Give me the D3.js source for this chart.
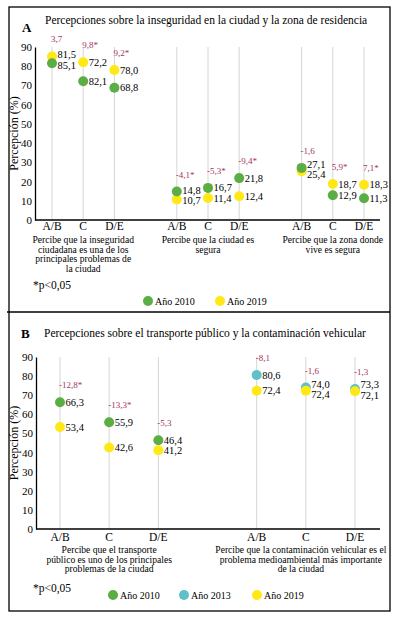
<!DOCTYPE html>
<html>
<head>
<meta charset="utf-8">
<script src="https://cdn.jsdelivr.net/npm/d3@7"></script>
<style>
  body { margin: 0; background: #fff; }
  text { font-family: "Liberation Serif", "DejaVu Serif", serif; }
</style>
</head>
<body>
<svg id="chart" width="397" height="621" font-family="Liberation Serif"></svg>
<script>
// ---- data, panel A ----
const catsA = ["A/B", "C", "D/E"];
const groupsA = [
  ["Percibe que la inseguridad", "ciudadana es una de los", "principales problemas de", "la ciudad"],
  ["Percibe que la ciudad es", "segura"],
  ["Percibe que la zona donde", "vive es segura"]
];
const a2010 = [81.5, 72.2, 68.8, 14.8, 16.7, 21.8, 27.1, 12.9, 11.3];
const a2019 = [85.1, 82.1, 78.0, 10.7, 11.4, 12.4, 25.4, 18.7, 18.3];
const a2010Labels = ["85,1", "82,1", "68,8", "14,8", "16,7", "21,8", "27,1", "12,9", "11,3"];
const a2019Labels = ["81,5", "72,2", "78,0", "10,7", "11,4", "12,4", "25,4", "18,7", "18,3"];
const diffA = ["3,7", "9,8*", "9,2*", "-4,1*", "-5,3*", "-9,4*", "-1,6", "5,9*", "7,1*"];

// ---- data, panel B ----
const catsB = ["A/B", "C", "D/E"];
const groupsB = [
  ["Percibe que el transporte", "público es uno de los principales", "problemas de la ciudad"],
  ["Percibe que la contaminación vehicular es el", "problema medioambiental más importante", "de la ciudad"]
];
const b2010 = [66.3, 55.9, 46.4, null, null, null];
const b2013 = [null, null, null, 80.6, 74.0, 73.3];
const b2019 = [53.4, 42.6, 41.2, 72.4, 72.4, 72.1];
const b2010Labels = ["66,3", "55,9", "46,4", null, null, null];
const b2013Labels = [null, null, null, "80,6", "74,0", "73,3"];
const b2019Labels = ["53,4", "42,6", "41,2", "72,4", "72,4", "72,1"];
const diffB = ["-12,8*", "-13,3*", "-5,3", "-8,1", "-1,6", "-1,3"];

const yTicks = [0, 10, 20, 30, 40, 50, 60, 70, 80, 90];

const GREEN = "#5aae45", YELLOW = "#ffe815", TEAL = "#5fc0c8", DIFF = "#a3335f";
const FONT = "Liberation Serif";

const svg = d3.select("#chart");

// panel frames (shared border between panels)
svg.append("rect").attr("x", 9).attr("y", 7).attr("width", 381).attr("height", 604)
  .attr("fill", "none").attr("stroke", "#000").attr("stroke-width", 1.3);
svg.append("line").attr("x1", 7).attr("x2", 390).attr("y1", 312).attr("y2", 312)
  .attr("stroke", "#000").attr("stroke-width", 1.3);

function drawPanel(cfg) {
  const g = svg.append("g").attr("font-family", FONT);
  const nGroups = cfg.groups.length;

  // slot keys with a spacer between groups
  const keys = [];
  cfg.groups.forEach((grp, gi) => {
    cfg.cats.forEach(c => keys.push(gi + "|" + c));
    if (gi < nGroups - 1) { keys.push("gap" + gi); }
  });
  const x = d3.scalePoint().domain(keys).range(cfg.xRange);
  const dataKeys = keys.filter(k => !k.startsWith("gap"));
  const y = d3.scaleLinear().domain([0, 90]).range([cfg.y0, cfg.y90]);

  // letter + title
  g.append("text").attr("x", cfg.letterX).attr("y", cfg.letterY)
    .attr("font-weight", "bold").attr("font-size", 13).text(cfg.letter);
  g.append("text").attr("x", cfg.titleX).attr("y", cfg.titleY)
    .attr("font-size", 11.5).text(cfg.title);

  // gridlines
  g.selectAll(".grid").data(dataKeys).join("line")
    .attr("x1", d => x(d)).attr("x2", d => x(d))
    .attr("y1", y(0)).attr("y2", y(90))
    .attr("stroke", "#d6d6d6").attr("stroke-width", 1);

  // y axis
  const yAxis = g.append("g").attr("transform", `translate(${cfg.axisX},0)`)
    .call(d3.axisLeft(y).tickValues(yTicks).tickSize(0).tickPadding(3));
  yAxis.attr("font-family", FONT);
  yAxis.select(".domain").attr("stroke", "#000").attr("stroke-width", 1.3);
  yAxis.selectAll("text").attr("font-size", 11).attr("fill", "#000");

  // x axis line
  g.append("line").attr("x1", cfg.axisX).attr("x2", cfg.axisEnd)
    .attr("y1", y(0)).attr("y2", y(0)).attr("stroke", "#000").attr("stroke-width", 1.3);

  // y axis title
  g.append("text")
    .attr("transform", `translate(${cfg.yTitleX},${(y(0) + y(90)) / 2}) rotate(-90)`)
    .attr("text-anchor", "middle").attr("font-size", 12).text("Percepción (%)");

  // category labels
  g.selectAll(".cat").data(dataKeys).join("text")
    .attr("x", d => x(d)).attr("y", cfg.catY)
    .attr("text-anchor", "middle").attr("font-size", 11.5).text(d => d.split("|")[1]);

  // group descriptions
  cfg.groups.forEach((lines, gi) => {
    const cx = x(gi + "|" + cfg.cats[1]) + (cfg.descShift ? cfg.descShift[gi] : 0);
    g.append("text").attr("text-anchor", "middle").attr("font-size", 9.6)
      .selectAll("tspan").data(lines).join("tspan")
      .attr("x", cx).attr("y", (d, i) => cfg.descY + i * 9.7).text(d => d);
  });

  // dots
  const points = [];
  cfg.series.forEach(s => {
    s.values.forEach((v, i) => {
      if (v == null) return;
      points.push({ key: dataKeys[i], i, v, label: s.labels[i], color: s.color, order: s.order });
    });
  });

  // spread value labels vertically when dots are close
  const minGap = 10.5;
  d3.groups(points, p => p.i).forEach(([i, pts]) => {
    pts.forEach(p => p.ly = y(p.v));
    pts.sort((a, b) => a.ly - b.ly);
    for (let k = 1; k < pts.length; k++) {
      const gap = pts[k].ly - pts[k - 1].ly;
      if (gap < minGap) {
        const push = (minGap - gap) / 2;
        pts[k - 1].ly -= push;
        pts[k].ly += push;
      }
    }
  });

  const drawOrder = points.slice().sort((a, b) => a.order - b.order);
  g.selectAll(".dot").data(drawOrder).join("circle")
    .attr("cx", d => x(d.key)).attr("cy", d => y(d.v)).attr("r", 5)
    .attr("fill", d => d.color);

  g.selectAll(".val").data(points).join("text")
    .attr("x", d => x(d.key) + 5.5).attr("y", d => d.ly)
    .attr("dy", "0.35em").attr("font-size", 10.5).text(d => d.label);

  // difference labels above the top dot
  g.selectAll(".diff").data(cfg.diffs).join("text")
    .attr("x", (d, i) => x(dataKeys[i]) - 1)
    .attr("y", (d, i) => {
      const top = d3.max(points.filter(p => p.i === i), p => p.v);
      return y(top) - 14;
    })
    .attr("font-size", 9).attr("fill", DIFF).text(d => d);

  // note
  g.append("text").attr("x", 33).attr("y", cfg.noteY).attr("font-size", 11.5).text("*p<0,05");

  // legend
  const leg = g.selectAll(".leg").data(cfg.legend).join("g")
    .attr("transform", d => `translate(${d.x},${cfg.legendY})`);
  leg.append("circle").attr("r", 5).attr("fill", d => d.color);
  leg.append("text").attr("x", 7).attr("dy", "0.35em").attr("font-size", 10).text(d => d.text);
}

drawPanel({
  letter: "A", letterX: 22, letterY: 32,
  title: "Percepciones sobre la inseguridad en la ciudad y la zona de residencia",
  titleX: 45, titleY: 24,
  cats: catsA, groups: groupsA,
  xRange: [52, 364], y0: 220, y90: 47,
  axisX: 35, axisEnd: 380, yTitleX: 18,
  catY: 230, descY: 243, noteY: 289,
  series: [
    { values: a2019, labels: a2019Labels, color: YELLOW, order: 1 },
    { values: a2010, labels: a2010Labels, color: GREEN, order: 2 }
  ],
  diffs: diffA,
  legendY: 301,
  legend: [{ x: 148, color: GREEN, text: "Año 2010" }, { x: 220, color: YELLOW, text: "Año 2019" }]
});

drawPanel({
  letter: "B", letterX: 21, letterY: 338,
  title: "Percepciones sobre el transporte público y la contaminación vehicular",
  titleX: 44, titleY: 337,
  cats: catsB, groups: groupsB,
  xRange: [60, 355], y0: 529, y90: 357,
  axisX: 36, axisEnd: 380, yTitleX: 18,
  catY: 541, descY: 553, noteY: 592,
  descShift: [0, -5],
  series: [
    { values: b2010, labels: b2010Labels, color: GREEN, order: 1 },
    { values: b2013, labels: b2013Labels, color: TEAL, order: 2 },
    { values: b2019, labels: b2019Labels, color: YELLOW, order: 3 }
  ],
  diffs: diffB,
  legendY: 595,
  legend: [{ x: 113, color: GREEN, text: "Año 2010" }, { x: 184, color: TEAL, text: "Año 2013" },
           { x: 257, color: YELLOW, text: "Año 2019" }]
});
</script>
</body>
</html>
